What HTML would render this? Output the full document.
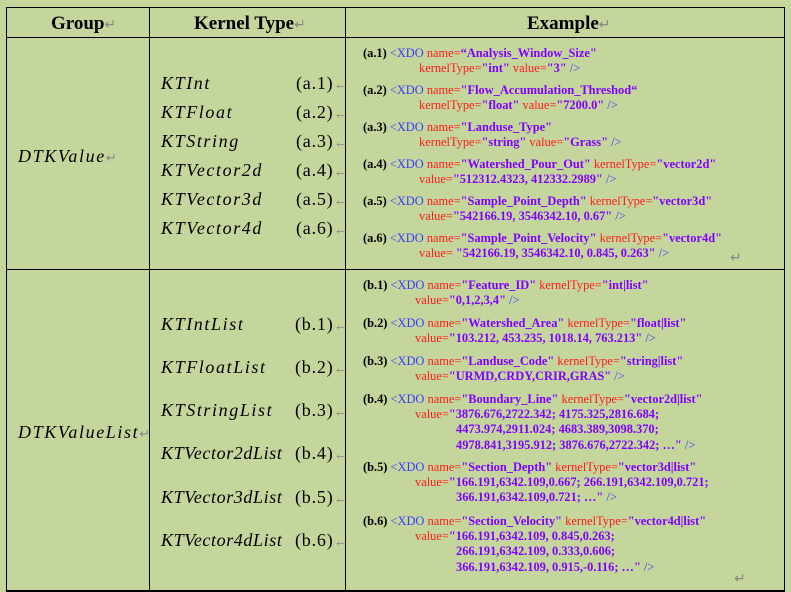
<!DOCTYPE html>
<html><head><meta charset="utf-8"><style>
body{margin:0;width:791px;height:592px;background:#c4d69c;position:relative;overflow:hidden;font-family:"Liberation Serif",serif;}
.l{position:absolute;background:#000;}
.t{position:absolute;white-space:nowrap;line-height:16px;}
.h{font-weight:bold;font-size:19px;line-height:22px;}
.k{font-style:italic;font-size:18px;letter-spacing:1.6px;line-height:20px;}
.n{font-size:18px;letter-spacing:0.8px;line-height:20px;}
.e{font-weight:bold;font-size:12.4px;color:#8000ff;}
.b{color:#000}.x{color:#3a3aff;font-weight:normal}.r{color:#ff1a1a;font-weight:normal}.g{color:#888;font-weight:normal}
.a{color:#888;font-size:15px;letter-spacing:0}
</style></head><body>
<div class="l" style="left:6px;top:7px;width:778px;height:1px"></div>
<div class="l" style="left:6px;top:37px;width:778px;height:1px"></div>
<div class="l" style="left:6px;top:269px;width:778px;height:1px"></div>
<div class="l" style="left:6px;top:590px;width:778px;height:2px"></div>
<div class="l" style="left:6px;top:7px;width:1px;height:585px"></div>
<div class="l" style="left:149px;top:7px;width:1px;height:585px"></div>
<div class="l" style="left:345px;top:7px;width:1px;height:585px"></div>
<div class="l" style="left:784px;top:7px;width:1px;height:585px"></div>

<div class="t h" style="left:51px;top:13px">Group<span class="g" style="font-size:14px">↵</span></div>
<div class="t h" style="left:194px;top:13px">Kernel Type<span class="g" style="font-size:14px">↵</span></div>
<div class="t h" style="left:527px;top:13px">Example<span class="g" style="font-size:14px">↵</span></div>

<div class="t k" style="left:18px;top:146px">DTKValue<span class="g" style="font-size:13px;font-style:normal">↵</span></div>
<div class="t k" style="left:18px;top:422px">DTKValueList<span class="g" style="font-size:13px;font-style:normal">↵</span></div>

<div class="t k" style="left:161px;top:73px">KTInt</div><div class="t n" style="left:296px;top:73px">(a.1)<span class="a">←</span></div>
<div class="t k" style="left:161px;top:102px">KTFloat</div><div class="t n" style="left:296px;top:102px">(a.2)<span class="a">←</span></div>
<div class="t k" style="left:161px;top:131px">KTString</div><div class="t n" style="left:296px;top:131px">(a.3)<span class="a">←</span></div>
<div class="t k" style="left:161px;top:160px">KTVector2d</div><div class="t n" style="left:296px;top:160px">(a.4)<span class="a">←</span></div>
<div class="t k" style="left:161px;top:189px">KTVector3d</div><div class="t n" style="left:296px;top:189px">(a.5)<span class="a">←</span></div>
<div class="t k" style="left:161px;top:218px">KTVector4d</div><div class="t n" style="left:296px;top:218px">(a.6)<span class="a">←</span></div>

<div class="t k" style="left:161px;top:314px">KTIntList</div><div class="t n" style="left:295px;top:314px">(b.1)<span class="a">←</span></div>
<div class="t k" style="left:161px;top:357px">KTFloatList</div><div class="t n" style="left:295px;top:357px">(b.2)<span class="a">←</span></div>
<div class="t k" style="left:161px;top:400px">KTStringList</div><div class="t n" style="left:295px;top:400px">(b.3)<span class="a">←</span></div>
<div class="t k" style="left:161px;top:443px;letter-spacing:0.6px">KTVector2dList</div><div class="t n" style="left:295px;top:443px">(b.4)<span class="a">←</span></div>
<div class="t k" style="left:161px;top:487px;letter-spacing:0.6px">KTVector3dList</div><div class="t n" style="left:295px;top:487px">(b.5)<span class="a">←</span></div>
<div class="t k" style="left:161px;top:530px;letter-spacing:0.6px">KTVector4dList</div><div class="t n" style="left:295px;top:530px">(b.6)<span class="a">←</span></div>

<div class="t e" style="left:363px;top:45px"><span class="b">(a.1)</span> <span class="x">&lt;XDO</span> <span class="r">name=</span>“Analysis_Window_Size"</div>
<div class="t e" style="left:419px;top:60px"><span class="r">kernelType=</span>"int" <span class="r">value=</span>"3" <span class="x">/&gt;</span></div>
<div class="t e" style="left:363px;top:82px"><span class="b">(a.2)</span> <span class="x">&lt;XDO</span> <span class="r">name=</span>"Flow_Accumulation_Threshod“</div>
<div class="t e" style="left:419px;top:97px"><span class="r">kernelType=</span>"float" <span class="r">value=</span>"7200.0" <span class="x">/&gt;</span></div>
<div class="t e" style="left:363px;top:119px"><span class="b">(a.3)</span> <span class="x">&lt;XDO</span> <span class="r">name=</span>"Landuse_Type"</div>
<div class="t e" style="left:419px;top:134px"><span class="r">kernelType=</span>"string" <span class="r">value=</span>"Grass" <span class="x">/&gt;</span></div>
<div class="t e" style="left:363px;top:156px"><span class="b">(a.4)</span> <span class="x">&lt;XDO</span> <span class="r">name=</span>"Watershed_Pour_Out" <span class="r">kernelType=</span>"vector2d"</div>
<div class="t e" style="left:419px;top:171px"><span class="r">value=</span>"512312.4323, 412332.2989" <span class="x">/&gt;</span></div>
<div class="t e" style="left:363px;top:193px"><span class="b">(a.5)</span> <span class="x">&lt;XDO</span> <span class="r">name=</span>"Sample_Point_Depth" <span class="r">kernelType=</span>"vector3d"</div>
<div class="t e" style="left:419px;top:208px"><span class="r">value=</span>"542166.19, 3546342.10, 0.67" <span class="x">/&gt;</span></div>
<div class="t e" style="left:363px;top:230px"><span class="b">(a.6)</span> <span class="x">&lt;XDO</span> <span class="r">name=</span>"Sample_Point_Velocity" <span class="r">kernelType=</span>"vector4d"</div>
<div class="t e" style="left:419px;top:245px"><span class="r">value=</span> "542166.19, 3546342.10, 0.845, 0.263" <span class="x">/&gt;</span></div>
<div class="t g" style="left:730px;top:251px;font-size:14px">↵</div>

<div class="t e" style="left:363px;top:277px"><span class="b">(b.1)</span> <span class="x">&lt;XDO</span> <span class="r">name=</span>"Feature_ID" <span class="r">kernelType=</span>"int|list"</div>
<div class="t e" style="left:415px;top:292px"><span class="r">value=</span>"0,1,2,3,4" <span class="x">/&gt;</span></div>
<div class="t e" style="left:363px;top:315px"><span class="b">(b.2)</span> <span class="x">&lt;XDO</span> <span class="r">name=</span>"Watershed_Area" <span class="r">kernelType=</span>"float|list"</div>
<div class="t e" style="left:415px;top:330px"><span class="r">value=</span>"103.212, 453.235, 1018.14, 763.213" <span class="x">/&gt;</span></div>
<div class="t e" style="left:363px;top:353px"><span class="b">(b.3)</span> <span class="x">&lt;XDO</span> <span class="r">name=</span>"Landuse_Code" <span class="r">kernelType=</span>"string|list"</div>
<div class="t e" style="left:415px;top:368px"><span class="r">value=</span>"URMD,CRDY,CRIR,GRAS" <span class="x">/&gt;</span></div>
<div class="t e" style="left:363px;top:391px"><span class="b">(b.4)</span> <span class="x">&lt;XDO</span> <span class="r">name=</span>"Boundary_Line" <span class="r">kernelType=</span>"vector2d|list"</div>
<div class="t e" style="left:415px;top:406px"><span class="r">value=</span>"3876.676,2722.342; 4175.325,2816.684;</div>
<div class="t e" style="left:456px;top:421px">4473.974,2911.024; 4683.389,3098.370;</div>
<div class="t e" style="left:456px;top:437px">4978.841,3195.912; 3876.676,2722.342; …" <span class="x">/&gt;</span></div>
<div class="t e" style="left:363px;top:459px"><span class="b">(b.5)</span> <span class="x">&lt;XDO</span> <span class="r">name=</span>"Section_Depth" <span class="r">kernelType=</span>"vector3d|list"</div>
<div class="t e" style="left:415px;top:474px"><span class="r">value=</span>"166.191,6342.109,0.667; 266.191,6342.109,0.721;</div>
<div class="t e" style="left:456px;top:489px">366.191,6342.109,0.721; …" <span class="x">/&gt;</span></div>
<div class="t e" style="left:363px;top:513px"><span class="b">(b.6)</span> <span class="x">&lt;XDO</span> <span class="r">name=</span>"Section_Velocity" <span class="r">kernelType=</span>"vector4d|list"</div>
<div class="t e" style="left:415px;top:528px"><span class="r">value=</span>"166.191,6342.109, 0.845,0.263;</div>
<div class="t e" style="left:456px;top:543px">266.191,6342.109, 0.333,0.606;</div>
<div class="t e" style="left:456px;top:559px">366.191,6342.109, 0.915,-0.116; …" <span class="x">/&gt;</span></div>
<div class="t g" style="left:734px;top:572px;font-size:14px">↵</div>
</body></html>
